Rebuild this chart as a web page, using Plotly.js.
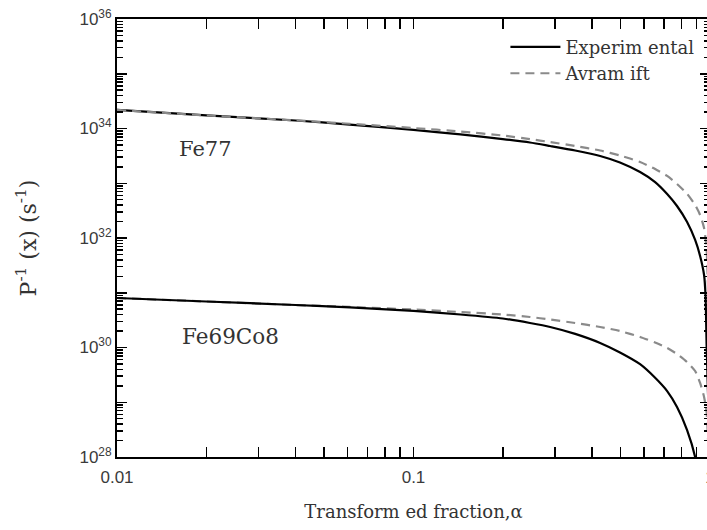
<!DOCTYPE html>
<html>
<head>
<meta charset="utf-8">
<script src="https://cdn.plot.ly/plotly-3.0.1.min.js"></script>
<style>
html,body{margin:0;padding:0;overflow:hidden;background:#fff;}
#chart{width:716px;height:530px;}
</style>
</head>
<body>
<div id="chart"></div>
<script>
// Fe77
const xExpFe77 = [0.01, 0.02, 0.04, 0.061, 0.1, 0.144, 0.2, 0.247, 0.289, 0.351, 0.426, 0.497, 0.581, 0.653, 0.717, 0.774, 0.837, 0.891, 0.926, 0.955, 0.966, 0.974, 1.0];
const yExpFe77 = [2.18e34, 1.73e34, 1.40e34, 1.18e34, 9.4e33, 7.8e33, 6.4e33, 5.55e33, 4.79e33, 3.96e33, 3.15e33, 2.39e33, 1.60e33, 1.05e33, 6.37e32, 3.84e32, 1.96e32, 9.2e31, 4.69e31, 2.11e31, 8.7e30, 1.1e30, 8.8e27];
const xFitFe77 = [0.01, 0.02, 0.04, 0.061, 0.1, 0.144, 0.2, 0.247, 0.289, 0.351, 0.426, 0.497, 0.581, 0.653, 0.717, 0.774, 0.837, 0.891, 0.926, 0.955, 0.974, 0.985, 0.995];
const yFitFe77 = [2.18e34, 1.73e34, 1.41e34, 1.22e34, 1.02e34, 8.8e33, 7.45e33, 6.4e33, 5.66e33, 4.79e33, 3.96e33, 3.21e33, 2.45e33, 1.82e33, 1.36e33, 9.7e32, 6.4e32, 4.0e32, 2.63e32, 1.52e32, 6.0e31, 1.12e31, 9.0e29];
// Fe69Co8
const xExpFe69Co8 = [0.01, 0.02, 0.04, 0.061, 0.1, 0.144, 0.2, 0.247, 0.289, 0.351, 0.426, 0.497, 0.581, 0.653, 0.717, 0.774, 0.837, 0.891, 0.926];
const yExpFe69Co8 = [8.02e30, 6.92e30, 5.97e30, 5.42e30, 4.65e30, 4.01e30, 3.39e30, 2.80e30, 2.37e30, 1.77e30, 1.21e30, 8.1e29, 4.95e29, 2.80e29, 1.60e29, 8.2e28, 3.11e28, 1.0e28, 2.5e27];
const xFitFe69Co8 = [0.01, 0.02, 0.04, 0.061, 0.1, 0.144, 0.2, 0.247, 0.289, 0.351, 0.426, 0.497, 0.581, 0.653, 0.717, 0.774, 0.837, 0.891, 0.926, 0.955, 0.974, 0.985, 0.995];
const yFitFe69Co8 = [8.02e30, 6.92e30, 5.97e30, 5.50e30, 4.95e30, 4.45e30, 4.01e30, 3.61e30, 3.24e30, 2.80e30, 2.37e30, 2.00e30, 1.56e30, 1.23e30, 9.8e29, 7.6e29, 5.4e29, 3.72e29, 2.25e29, 1.25e29, 6.6e28, 2.05e28, 3.8e27];

const seriesNames = ["Experim ental", "Avram ift"];
const sampleLabels = ["Fe77", "Fe69Co8"];

const xTickVals = [0.01, 0.1, 1];
const xTickText = ["0.01", "0.1", "1"];
const yLabelVals = [1e28, 1e30, 1e32, 1e34, 1e36];
const yLabelText = ["10<sup>28</sup>", "10<sup>30</sup>", "10<sup>32</sup>", "10<sup>34</sup>", "10<sup>36</sup>"];
const yOddDecades = [1e29, 1e31, 1e33, 1e35];

// minor tick positions (2..9 x each decade)
const xMinor = [];
for (let e = -2; e < 0; e++) for (let m = 2; m <= 9; m++) xMinor.push(m * Math.pow(10, e));
const yMinor = [];
for (let e = 28; e < 36; e++) for (let m = 2; m <= 9; m++) yMinor.push(m * Math.pow(10, e));

const expLine = {color: "#000000", width: 2.2};
const fitLine = {color: "#8a8a8a", width: 2.2, dash: "9px,6px"};

const traces = [
  {x: xExpFe77, y: yExpFe77, mode: "lines", name: seriesNames[0], line: Object.assign({}, expLine), legendgroup: "exp", showlegend: true},
  {x: xFitFe77, y: yFitFe77, mode: "lines", name: seriesNames[1], line: Object.assign({}, fitLine), legendgroup: "fit", showlegend: true},
  {x: xFitFe69Co8, y: yFitFe69Co8, mode: "lines", name: seriesNames[1], line: Object.assign({}, fitLine), legendgroup: "fit", showlegend: false},
  {x: xExpFe69Co8, y: yExpFe69Co8, mode: "lines", name: seriesNames[0], line: Object.assign({}, expLine), legendgroup: "exp", showlegend: false}
];
traces.forEach(t => { t.line.shape = "spline"; t.line.smoothing = 0.6; t.hoverinfo = "skip"; });
// empty trace so the overlaid tick axis (odd decades + minor ticks) is drawn
traces.push({x: [], y: [], xaxis: "x", yaxis: "y2", mode: "lines", showlegend: false, hoverinfo: "skip"});

const tickFont = {family: "Liberation Sans, Arial, sans-serif", size: 17, color: "#3a3a3a"};
const serifFont = "DejaVu Serif, serif";

const commonAxis = {
  ticks: "inside", ticklen: 10, tickwidth: 1.5, tickcolor: "#000",
  showline: true, linewidth: 2, linecolor: "#000", mirror: "allticks",
  showgrid: false, zeroline: false
};

const layout = {
  width: 716, height: 530,
  margin: {l: 117, r: 6, t: 19, b: 73},
  paper_bgcolor: "#ffffff", plot_bgcolor: "#ffffff",
  showlegend: true,
  legend: {x: 0.655, y: 0.978, xanchor: "left", yanchor: "top", bgcolor: "rgba(0,0,0,0)", itemwidth: 50,
           font: {family: serifFont, size: 18, color: "#333"}, tracegroupgap: 0, traceorder: "normal"},
  xaxis: Object.assign({}, commonAxis, {
    type: "log", range: [-2, 0],
    tickmode: "array", tickvals: xTickVals, ticktext: xTickText,
    minor: {tickmode: "array", tickvals: xMinor, ticks: "inside", ticklen: 5, tickwidth: 1.5, tickcolor: "#000", showgrid: false},
    tickfont: tickFont, ticklabelstandoff: 4,
    title: {text: "Transform ed fraction,α", font: {family: serifFont, size: 18, color: "#333"}, standoff: 19}
  }),
  yaxis: Object.assign({}, commonAxis, {
    type: "log", range: [28, 36],
    tickmode: "array", tickvals: yLabelVals, ticktext: yLabelText,
    tickfont: tickFont,
    title: {text: "P<sup>-1</sup> (x) (s<sup>-1</sup>)", font: {family: serifFont, size: 22, color: "#333"}, standoff: 37}
  }),
  yaxis2: Object.assign({}, commonAxis, {
    type: "log", range: [28, 36], overlaying: "y", anchor: "x", side: "left",
    tickmode: "array", tickvals: yOddDecades, showticklabels: false,
    minor: {tickmode: "array", tickvals: yMinor, ticks: "inside", ticklen: 6, tickwidth: 1.5, tickcolor: "#000", showgrid: false}
  }),
  annotations: [
    {text: sampleLabels[0], xref: "paper", yref: "paper", x: 0.102, y: 0.703, xanchor: "left", yanchor: "middle", showarrow: false,
     font: {family: serifFont, size: 21, color: "#333"}},
    {text: sampleLabels[1], xref: "paper", yref: "paper", x: 0.106, y: 0.276, xanchor: "left", yanchor: "middle", showarrow: false,
     font: {family: serifFont, size: 21.5, color: "#333"}}
  ]
};

Plotly.newPlot("chart", traces, layout, {staticPlot: true, displayModeBar: false});
</script>
</body>
</html>
